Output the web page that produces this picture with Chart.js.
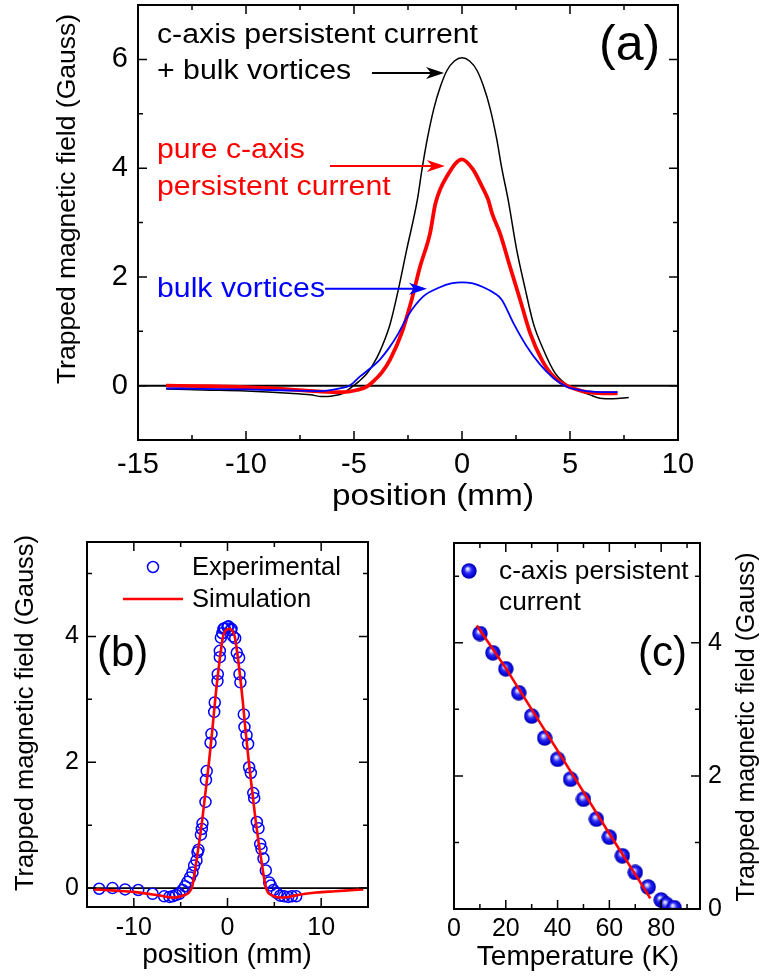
<!DOCTYPE html>
<html>
<head>
<meta charset="utf-8">
<script src="https://cdn.jsdelivr.net/npm/chart.js@4.4.1/dist/chart.umd.min.js"></script>
<style>
  html, body { margin: 0; padding: 0; background: #fff; }
  #page { position: relative; width: 764px; height: 978px; overflow: hidden; }
  canvas { position: absolute; }
</style>
</head>
<body>
<div id="page">
  <canvas id="chartA" width="764" height="520" style="left:0;top:0"></canvas>
  <canvas id="chartB" width="380" height="458" style="left:0;top:520px"></canvas>
  <canvas id="chartC" width="384" height="458" style="left:380px;top:520px"></canvas>
</div>
<script>
const FONT = "'Liberation Sans', Arial, sans-serif";
Chart.defaults.font.family = FONT;
Chart.defaults.color = "#000";

// ---- (a) field profiles, position in mm, field in Gauss
const posBlack = [-13.7, -12, -10, -8, -7, -6.5, -6, -5.5, -5.18, -4.8, -4.41, -4.1, -3.8, -3.33, -2.95, -2.56, -2.07, -1.85, -1.6, -1.3, -1.0, -0.69, -0.35, 0, 0.35, 0.69, 1.0, 1.3, 1.6, 1.85, 2.14, 2.53, 2.92, 3.3, 3.77, 4.31, 4.92, 5.4, 5.93, 6.39, 7.0, 7.72];
const fieldBlack = [-0.06, -0.08, -0.1, -0.14, -0.17, -0.2, -0.19, -0.14, -0.05, 0.07, 0.22, 0.4, 0.63, 1.13, 1.76, 2.5, 3.41, 3.98, 4.55, 5.1, 5.5, 5.8, 5.97, 6.03, 5.97, 5.8, 5.5, 5.1, 4.55, 3.98, 3.41, 2.5, 1.79, 1.15, 0.66, 0.23, 0, -0.09, -0.17, -0.23, -0.24, -0.22];

const posRed = [-13.7, -12, -10, -8, -6.5, -5.5, -4.87, -4.4, -4.1, -3.7, -3.33, -2.79, -2.33, -1.94, -1.48, -1.23, -0.62, 0, 0.5, 0.93, 1.22, 1.39, 1.76, 2.22, 2.69, 3.15, 3.69, 4.23, 4.84, 5.3, 5.77, 6.5, 7.2];
const fieldRed = [0, -0.01, -0.03, -0.07, -0.11, -0.12, -0.08, -0.02, 0.08, 0.25, 0.48, 0.97, 1.58, 2.19, 2.8, 3.35, 3.9, 4.16, 3.98, 3.66, 3.41, 3.17, 2.8, 2.19, 1.58, 0.97, 0.48, 0.17, 0, -0.07, -0.12, -0.14, -0.14];

const posBlue = [-13.7, -12, -10, -8, -6.5, -5.65, -5.2, -4.72, -4.3, -3.8, -3.4, -3.02, -2.48, -1.79, -1.02, -0.5, 0, 0.5, 0.99, 1.5, 1.84, 2.38, 3.0, 3.61, 4.23, 4.84, 5.3, 5.77, 6.5, 7.2];
const fieldBlue = [-0.05, -0.06, -0.07, -0.09, -0.1, -0.05, 0.0, 0.17, 0.3, 0.48, 0.68, 0.91, 1.3, 1.64, 1.81, 1.88, 1.9, 1.88, 1.81, 1.7, 1.58, 1.15, 0.72, 0.39, 0.14, -0.02, -0.07, -0.1, -0.12, -0.12];

const zeroSpanA = [-15, 10];
const zeroSpanB = [-15, 15];
const zeros = [0, 0];

// ---- (b) measured profile vs simulation
const posExp = [-13.7, -12.28, -10.93, -9.53, -8.0, -6.76, -6.2, -5.86, -5.5, -5.15, -4.8, -4.52, -4.27, -4.0, -3.74, -3.56, -3.31, -3.2, -3.1, -2.84, -2.74, -2.67, -2.35, -2.3, -2.22, -1.81, -1.71, -1.42, -1.36, -1.07, -1.04, -0.82, -0.82, -0.71, -0.55, -0.43, -0.3, 0, 0.1, 0.35, 0.43, 0.6, 0.82, 0.99, 1.24, 1.28, 1.38, 1.74, 1.81, 2.03, 2.2, 2.31, 2.49, 2.75, 2.85, 3.13, 3.31, 3.49, 3.63, 3.84, 4.09, 4.45, 4.63, 4.91, 5.27, 5.62, 6.05, 6.48, 6.87, 7.33];
const fieldExp = [-0.01, 0.0, -0.02, -0.03, -0.09, -0.13, -0.14, -0.13, -0.11, -0.09, -0.03, 0.03, 0.1, 0.17, 0.25, 0.36, 0.44, 0.57, 0.61, 0.85, 0.94, 1.03, 1.37, 1.72, 1.86, 2.31, 2.45, 2.8, 2.95, 3.29, 3.4, 3.67, 3.77, 3.98, 4.05, 4.12, 4.13, 4.15, 4.16, 4.1, 4.12, 4.0, 3.97, 3.74, 3.66, 3.4, 3.27, 2.76, 2.56, 2.43, 2.29, 1.92, 1.83, 1.51, 1.43, 1.05, 0.95, 0.7, 0.62, 0.47, 0.28, 0.09, 0.04, -0.03, -0.08, -0.12, -0.13, -0.14, -0.13, -0.13];

const posSim = [-14.3, -12, -10, -8, -6.8, -5.7, -4.8, -3.82, -3.3, -2.77, -2.37, -1.98, -1.63, -1.31, -0.9, -0.47, -0.15, 0.15, 0.45, 0.77, 1.2, 1.61, 1.93, 2.28, 2.67, 3.07, 3.6, 4.12, 4.8, 5.6, 6.5, 7.8, 9.5, 11.5, 13.5, 14.5];
const fieldSim = [-0.02, -0.04, -0.06, -0.1, -0.13, -0.15, -0.12, 0, 0.45, 1.0, 1.5, 2.0, 2.5, 3.0, 3.55, 4.0, 4.1, 4.12, 4.1, 4.0, 3.55, 3.0, 2.5, 2.0, 1.5, 1.0, 0.45, 0, -0.12, -0.15, -0.14, -0.1, -0.07, -0.05, -0.03, -0.02];

// ---- (c) peak field vs temperature
const tempK = [10, 15, 20, 25, 30, 35, 40, 45, 50, 55, 60, 65, 70, 75, 80, 82, 85];
const fieldT = [4.14, 3.85, 3.61, 3.25, 2.9, 2.57, 2.25, 1.95, 1.65, 1.35, 1.08, 0.8, 0.55, 0.33, 0.135, 0.07, 0.02];
const tempFit = [8.8, 20, 30, 40, 50, 60, 70, 75.8];
const fieldFit = [4.26, 3.62, 3.0, 2.38, 1.76, 1.13, 0.52, 0.16];

const xy = (xs, ys) => xs.map((x, i) => ({ x, y: ys[i] }));
const font = (px) => px + "px " + FONT;

function drawText(ctx, t) {
  ctx.save();
  ctx.fillStyle = t.color || "#000";
  ctx.font = t.font;
  ctx.textAlign = t.align || "left";
  ctx.textBaseline = t.baseline || "alphabetic";
  ctx.translate(t.x, t.y);
  if (t.rotate) ctx.rotate(t.rotate);
  if (t.sx) ctx.scale(t.sx, 1);
  ctx.fillText(t.text, 0, 0);
  ctx.restore();
}

function drawArrow(ctx, x0, x1, y, color) {
  ctx.save();
  ctx.strokeStyle = color;
  ctx.fillStyle = color;
  ctx.lineWidth = 2;
  ctx.beginPath();
  ctx.moveTo(x0, y);
  ctx.lineTo(x1 - 12, y);
  ctx.stroke();
  ctx.beginPath();
  ctx.moveTo(x1, y);
  ctx.lineTo(x1 - 18, y - 6);
  ctx.lineTo(x1 - 13, y);
  ctx.lineTo(x1 - 18, y + 6);
  ctx.closePath();
  ctx.fill();
  ctx.restore();
}

function makeBall(d) {
  const c = document.createElement("canvas");
  c.width = d;
  c.height = d;
  const g = c.getContext("2d");
  const r = d / 2;
  const grad = g.createRadialGradient(r * 0.8, r * 0.7, 0, r, r, r);
  grad.addColorStop(0, "#ffffff");
  grad.addColorStop(0.18, "#b8b8ff");
  grad.addColorStop(0.45, "#2a2af5");
  grad.addColorStop(0.85, "#0000d0");
  grad.addColorStop(1, "#000080");
  g.fillStyle = grad;
  g.beginPath();
  g.arc(r, r, r - 0.3, 0, Math.PI * 2);
  g.fill();
  return c;
}
const ball = makeBall(16);

// frame, inward ticks on all four sides, arrows and labels
function panelDecor(opts) {
  return {
    id: "panelDecor",
    afterDraw(chart) {
      const { ctx, chartArea: a } = chart;
      const sx = chart.scales.x;
      const sy = chart.scales.y;
      ctx.save();
      ctx.strokeStyle = "#000";
      ctx.lineWidth = 1.5;
      ctx.beginPath();
      sx.ticks.forEach((t) => {
        const p = sx.getPixelForValue(t.value);
        const len = t.label === "" ? 5 : 9;
        ctx.moveTo(p, a.bottom);
        ctx.lineTo(p, a.bottom - len);
        ctx.moveTo(p, a.top);
        ctx.lineTo(p, a.top + len);
      });
      sy.ticks.forEach((t) => {
        const p = sy.getPixelForValue(t.value);
        const len = t.label === "" ? 5 : 9;
        ctx.moveTo(a.left, p);
        ctx.lineTo(a.left + len, p);
        ctx.moveTo(a.right, p);
        ctx.lineTo(a.right - len, p);
      });
      ctx.stroke();
      ctx.lineWidth = 2;
      ctx.strokeRect(a.left, a.top, a.right - a.left, a.bottom - a.top);
      (opts.arrows || []).forEach((ar) =>
        drawArrow(ctx, sx.getPixelForValue(ar.x0), sx.getPixelForValue(ar.x1), sy.getPixelForValue(ar.y), ar.color)
      );
      (opts.texts || []).forEach((t) => drawText(ctx, t));
      if (opts.legend) opts.legend(ctx);
      ctx.restore();
    },
  };
}

const lineBase = { pointRadius: 0, fill: false, cubicInterpolationMode: "monotone" };

function baseOptions(cfg) {
  return {
    responsive: false,
    animation: false,
    layout: { padding: cfg.padding },
    plugins: { legend: { display: false }, tooltip: { enabled: false } },
    scales: {
      x: {
        type: "linear",
        min: cfg.xMin,
        max: cfg.xMax,
        afterFit: (s) => {
          s.height = cfg.xHeight;
          s.paddingLeft = 0;
          s.paddingRight = 0;
        },
        grid: { display: false, drawTicks: false },
        border: { display: false },
        ticks: {
          stepSize: cfg.xStep,
          includeBounds: false,
          autoSkip: false,
          maxRotation: 0,
          padding: cfg.xPad,
          font: { size: cfg.tickSize },
          callback: cfg.xLabel,
        },
      },
      y: {
        type: "linear",
        position: cfg.yPos || "left",
        min: cfg.yMin,
        max: cfg.yMax,
        afterFit: (s) => {
          s.width = cfg.yWidth;
          s.paddingTop = 0;
          s.paddingBottom = 0;
        },
        grid: { display: false, drawTicks: false },
        border: { display: false },
        ticks: {
          stepSize: cfg.yStep,
          includeBounds: false,
          autoSkip: false,
          padding: cfg.yPad,
          font: { size: cfg.tickSize },
          callback: cfg.yLabel,
        },
      },
    },
  };
}

const evenLabel = (v) => (v >= 0 && v % 2 === 0 ? v : "");
const UP = -Math.PI / 2;
const YTITLE = "Trapped magnetic field (Gauss)";

// ---------------- (a)
new Chart(document.getElementById("chartA"), {
  type: "line",
  data: {
    datasets: [
      { ...lineBase, data: xy(posBlue, fieldBlue), borderColor: "#0000ff", borderWidth: 1.8 },
      { ...lineBase, data: xy(posRed, fieldRed), borderColor: "#ff0000", borderWidth: 3.8 },
      { ...lineBase, data: xy(posBlack, fieldBlack), borderColor: "#000000", borderWidth: 1.5 },
      { ...lineBase, data: xy(zeroSpanA, zeros), borderColor: "#000000", borderWidth: 2 },
    ],
  },
  options: baseOptions({
    padding: { left: 0, right: 86, top: 5, bottom: 0 },
    xMin: -15, xMax: 10, xStep: 2.5, xHeight: 80, xPad: 8,
    yMin: -1, yMax: 7, yStep: 1, yWidth: 138, yPad: 10,
    tickSize: 29,
    xLabel: (v) => (v % 5 === 0 ? v : ""),
    yLabel: evenLabel,
  }),
  plugins: [
    panelDecor({
      arrows: [
        { x0: -4.17, x1: -0.83, y: 5.75, color: "#000000" },
        { x0: -6.11, x1: -0.79, y: 4.04, color: "#ff0000" },
        { x0: -6.34, x1: -1.62, y: 1.78, color: "#0000ff" },
      ],
      texts: [
        { text: "c-axis persistent current", x: 157, y: 43, font: font(27), sx: 1.12 },
        { text: "+ bulk vortices", x: 157, y: 79, font: font(27), sx: 1.12 },
        { text: "pure c-axis", x: 157, y: 158, font: font(27), sx: 1.12, color: "#ff0000" },
        { text: "persistent current", x: 157, y: 195, font: font(27), sx: 1.12, color: "#ff0000" },
        { text: "bulk vortices", x: 157, y: 297, font: font(27), sx: 1.12, color: "#0000ff" },
        { text: "(a)", x: 599, y: 60, font: font(50) },
        { text: YTITLE, x: 68, y: 199, font: font(26.5), rotate: UP, align: "center", baseline: "middle" },
        { text: "position (mm)", x: 433, y: 497, font: font(29), sx: 1.15, align: "center", baseline: "middle" },
      ],
    }),
  ],
});

// ---------------- (b)
new Chart(document.getElementById("chartB"), {
  type: "line",
  data: {
    datasets: [
      { ...lineBase, data: xy(posSim, fieldSim), borderColor: "#ff0000", borderWidth: 2.6 },
      {
        data: xy(posExp, fieldExp),
        showLine: false,
        pointStyle: "circle",
        pointRadius: 5.5,
        pointBorderWidth: 1.5,
        pointBorderColor: "#0000ff",
        pointBackgroundColor: "rgba(0,0,0,0)",
      },
      { ...lineBase, data: xy(zeroSpanB, zeros), borderColor: "#000000", borderWidth: 1.8 },
    ],
  },
  options: baseOptions({
    padding: { left: 0, right: 12, top: 22, bottom: 0 },
    xMin: -15, xMax: 15, xStep: 5, xHeight: 71, xPad: 6,
    yMin: -0.3, yMax: 5.5, yStep: 1, yWidth: 87, yPad: 8,
    tickSize: 25,
    xLabel: (v) => (v % 10 === 0 && Math.abs(v) < 15 ? v : ""),
    yLabel: evenLabel,
  }),
  plugins: [
    panelDecor({
      texts: [
        { text: "(b)", x: 97, y: 146, font: font(42) },
        { text: YTITLE, x: 26, y: 193, font: font(25.5), rotate: UP, align: "center", baseline: "middle" },
        { text: "position (mm)", x: 227, y: 435, font: font(28), align: "center", baseline: "middle" },
        { text: "Experimental", x: 192, y: 55, font: font(25.5) },
        { text: "Simulation", x: 192, y: 87, font: font(25.5) },
      ],
      legend(ctx) {
        ctx.strokeStyle = "#0000ff";
        ctx.lineWidth = 1.5;
        ctx.beginPath();
        ctx.arc(153, 47, 5.5, 0, Math.PI * 2);
        ctx.stroke();
        ctx.strokeStyle = "#ff0000";
        ctx.lineWidth = 2.6;
        ctx.beginPath();
        ctx.moveTo(123, 79);
        ctx.lineTo(183, 79);
        ctx.stroke();
      },
    }),
  ],
});

// ---------------- (c)
new Chart(document.getElementById("chartC"), {
  type: "line",
  data: {
    datasets: [
      { ...lineBase, data: xy(tempFit, fieldFit), borderColor: "#ff0000", borderWidth: 2.6, cubicInterpolationMode: "default", tension: 0 },
      { data: xy(tempK, fieldT), showLine: false, pointStyle: ball, pointRadius: 8 },
    ],
  },
  options: baseOptions({
    padding: { left: 74, right: 0, top: 23, bottom: 0 },
    xMin: 0, xMax: 95, xStep: 10, xHeight: 69, xPad: 5,
    yMin: 0, yMax: 5.5, yStep: 1, yWidth: 64, yPad: 8, yPos: "right",
    tickSize: 25,
    xLabel: (v) => (v % 20 === 0 && v <= 80 ? v : ""),
    yLabel: evenLabel,
  }),
  plugins: [
    panelDecor({
      texts: [
        { text: "(c)", x: 258, y: 146, font: font(42) },
        { text: YTITLE, x: 367, y: 207, font: font(25), rotate: UP, align: "center", baseline: "middle" },
        { text: "Temperature (K)", x: 198, y: 437, font: font(28), align: "center", baseline: "middle" },
        { text: "c-axis persistent", x: 119, y: 59, font: font(25), sx: 1.05 },
        { text: "current", x: 119, y: 90, font: font(25), sx: 1.05 },
      ],
      legend(ctx) {
        ctx.drawImage(ball, 89 - 8, 51 - 8, 16, 16);
      },
    }),
  ],
});
</script>
</body>
</html>
